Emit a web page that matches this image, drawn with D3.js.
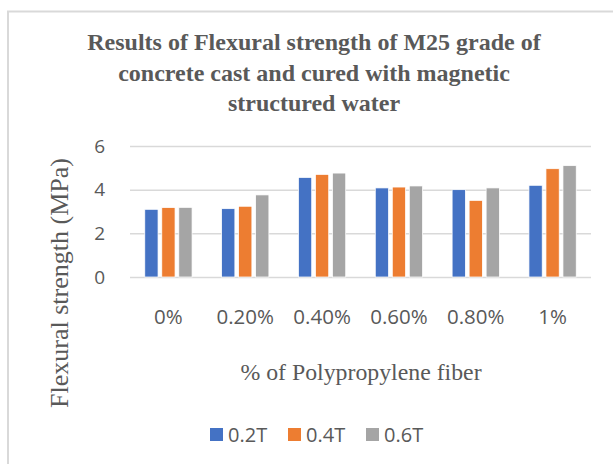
<!DOCTYPE html>
<html>
<head>
<meta charset="utf-8">
<script src="https://cdn.jsdelivr.net/npm/d3@7"></script>
<style>
  body { margin: 0; background: #fff; }
  svg { display: block; }
</style>
</head>
<body>
<div id="chart"></div>
<script>
// chart values
const categories = ['0%', '0.20%', '0.40%', '0.60%', '0.80%', '1%'];
const seriesNames = ['0.2T', '0.4T', '0.6T'];
const s02T = [3.10, 3.13, 4.56, 4.08, 4.00, 4.20];
const s04T = [3.18, 3.24, 4.70, 4.12, 3.51, 4.96];
const s06T = [3.19, 3.76, 4.76, 4.17, 4.08, 5.10];
const yTicks = [0, 2, 4, 6];

const seriesValues = [s02T, s04T, s06T];
const colors = ['#4472C4', '#ED7D31', '#A5A5A5'];
const textColor = '#595959';
const gridColor = '#D9D9D9';

const W = 613, H = 464;
const plot = { left: 130, right: 591, top: 146, bottom: 277 };

const svg = d3.select('#chart').append('svg')
  .attr('width', W)
  .attr('height', H);

// chart area outline (only the top and left edges show in the crop)
svg.append('path')
  .attr('d', `M8,${H} V11.5 H${W}`)
  .attr('fill', 'none')
  .attr('stroke', gridColor)
  .attr('stroke-width', 2);

// title
const titleLines = [
  'Results of Flexural strength of M25 grade of',
  'concrete cast and cured with magnetic',
  'structured water'
];
svg.append('text')
  .attr('x', 314)
  .attr('y', 50)
  .attr('text-anchor', 'middle')
  .attr('font-family', '"Liberation Serif", "Times New Roman", serif')
  .attr('font-weight', 'bold')
  .attr('font-size', 24)
  .attr('fill', textColor)
  .selectAll('tspan')
  .data(titleLines)
  .join('tspan')
  .attr('x', 314)
  .attr('dy', (d, i) => i === 0 ? 0 : 30.5)
  .text(d => d);

// scales
const x = d3.scaleBand()
  .domain(categories)
  .range([plot.left, plot.right])
  .paddingInner(0.336)
  .paddingOuter(0.168);

const xs = d3.scaleBand()
  .domain(seriesNames)
  .range([0, x.bandwidth()])
  .paddingInner(0.22)
  .paddingOuter(0.11);

const y = d3.scaleLinear()
  .domain([0, 6])
  .range([plot.bottom, plot.top]);

// y axis with gridlines
const yAxis = svg.append('g')
  .attr('transform', `translate(${plot.left},0)`)
  .call(d3.axisLeft(y)
    .tickValues(yTicks)
    .tickFormat(d3.format('d'))
    .tickSizeInner(-(plot.right - plot.left))
    .tickSizeOuter(0)
    .tickPadding(25));
yAxis.select('.domain').remove();
yAxis.selectAll('line')
  .attr('stroke', gridColor)
  .attr('stroke-width', 1.5);
yAxis.selectAll('text')
  .attr('fill', textColor)
  .attr('font-family', '"Open Sans", sans-serif')
  .attr('font-size', 19);

// bars
const groups = svg.append('g')
  .selectAll('g')
  .data(seriesNames)
  .join('g')
  .attr('fill', (d, i) => colors[i]);

groups.selectAll('rect')
  .data((name, si) => categories.map((c, ci) => ({ c, name, v: seriesValues[si][ci] })))
  .join('rect')
  .attr('x', d => x(d.c) + xs(d.name))
  .attr('y', d => y(d.v))
  .attr('width', xs.bandwidth())
  .attr('height', d => y(0) - y(d.v))
  .attr('stroke', '#fff')
  .attr('stroke-width', 0.75);

// x axis labels
const xAxis = svg.append('g')
  .attr('transform', `translate(0,${plot.bottom})`)
  .call(d3.axisBottom(x).tickSize(0).tickPadding(32));
xAxis.select('.domain').remove();
xAxis.selectAll('text')
  .attr('fill', textColor)
  .attr('font-family', '"Open Sans", sans-serif')
  .attr('font-size', 20.5);

// axis titles
svg.append('text')
  .attr('x', 361)
  .attr('y', 380)
  .attr('text-anchor', 'middle')
  .attr('font-family', '"Liberation Serif", "Times New Roman", serif')
  .attr('font-size', 23.8)
  .attr('fill', textColor)
  .text('% of Polypropylene fiber');

svg.append('text')
  .attr('transform', 'translate(68,283) rotate(-90)')
  .attr('text-anchor', 'middle')
  .attr('font-family', '"Liberation Serif", "Times New Roman", serif')
  .attr('font-size', 26)
  .attr('fill', textColor)
  .text('Flexural strength (MPa)');

// legend
const legendX = [210, 288, 366];
const legend = svg.append('g')
  .selectAll('g')
  .data(seriesNames)
  .join('g')
  .attr('transform', (d, i) => `translate(${legendX[i]},428)`);
legend.append('rect')
  .attr('width', 13)
  .attr('height', 13)
  .attr('fill', (d, i) => colors[i]);
legend.append('text')
  .attr('x', 18)
  .attr('y', 6.5)
  .attr('dy', '0.35em')
  .attr('fill', textColor)
  .attr('font-family', '"Open Sans", sans-serif')
  .attr('font-size', 20)
  .text(d => d);
</script>
</body>
</html>
